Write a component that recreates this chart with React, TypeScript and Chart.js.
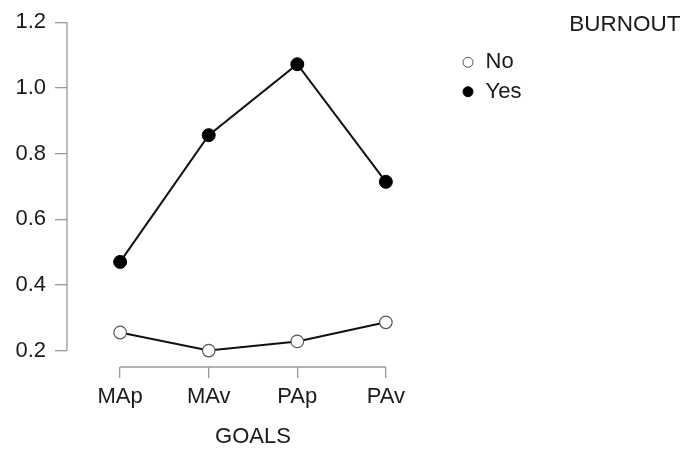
import React, { useEffect, useRef } from 'react';
import { Chart, registerables } from 'chart.js';

Chart.register(...registerables);

// ---- data ----
const categories = ['MAp', 'MAv', 'PAp', 'PAv'];
const burnoutNo = [0.255, 0.2, 0.228, 0.286];
const burnoutYes = [0.47, 0.856, 1.072, 0.714];
const yTicks = [0.2, 0.4, 0.6, 0.8, 1.0, 1.2];
const seriesNames = ['No', 'Yes'];
const legendTitle = 'BURNOUT';
const xTitle = 'GOALS';

const FONT = '"Liberation Sans", Arial, Helvetica, sans-serif';
const TEXT = '#1a1a1a';
const AXIS = '#9a9a9a';

const axesAndLegend = {
  id: 'axesAndLegend',
  afterDraw(chart: any) {
    const { ctx, chartArea, scales } = chart;
    const x = scales.x;
    const y = scales.y;
    ctx.save();
    // offset axis lines (span only the tick range)
    ctx.strokeStyle = AXIS;
    ctx.lineWidth = 1.3;
    ctx.beginPath();
    ctx.moveTo(chartArea.left, y.getPixelForValue(yTicks[yTicks.length - 1]));
    ctx.lineTo(chartArea.left, y.getPixelForValue(yTicks[0]));
    ctx.moveTo(x.getPixelForValue(0), chartArea.bottom);
    ctx.lineTo(x.getPixelForValue(categories.length - 1), chartArea.bottom);
    ctx.stroke();

    // legend
    const lx = 468;
    const ly0 = 62.3;
    const dy = 29.4;
    chart.data.datasets.forEach((ds: any, i: number) => {
      const cy = ly0 + i * dy;
      ctx.beginPath();
      ctx.arc(lx, cy, 5, 0, Math.PI * 2);
      ctx.fillStyle = ds.pointBackgroundColor;
      ctx.fill();
      ctx.lineWidth = 1;
      ctx.strokeStyle = ds.pointBorderColor;
      ctx.stroke();
      ctx.fillStyle = TEXT;
      ctx.font = `22px ${FONT}`;
      ctx.textAlign = 'left';
      ctx.textBaseline = 'middle';
      ctx.fillText(ds.label, 485.5, cy);
    });
    ctx.fillStyle = TEXT;
    ctx.font = `22.5px ${FONT}`;
    ctx.textAlign = 'right';
    ctx.textBaseline = 'middle';
    ctx.fillText(legendTitle, 680.5, 25);
    ctx.restore();
  },
};

export default function App() {
  const ref = useRef<HTMLCanvasElement | null>(null);

  useEffect(() => {
    if (!ref.current) return;
    const font = { family: FONT, size: 22 };
    const chart = new Chart(ref.current, {
      type: 'line',
      data: {
        datasets: [
          {
            label: seriesNames[0],
            data: burnoutNo.map((v, i) => ({ x: i, y: v })),
            borderColor: '#111',
            borderWidth: 2,
            pointRadius: 6.3,
            pointBackgroundColor: '#ffffff',
            pointBorderColor: '#555555',
            pointBorderWidth: 1.2,
            fill: false,
            tension: 0,
          },
          {
            label: seriesNames[1],
            data: burnoutYes.map((v, i) => ({ x: i, y: v })),
            borderColor: '#111',
            borderWidth: 2,
            pointRadius: 6.5,
            pointBackgroundColor: '#000000',
            pointBorderColor: '#000000',
            pointBorderWidth: 1,
            fill: false,
            tension: 0,
          },
        ],
      },
      options: {
        responsive: false,
        animation: false,
        devicePixelRatio: 1,
        layout: { padding: { top: 22, right: 243, bottom: 0, left: 0 } },
        plugins: {
          legend: { display: false },
          tooltip: { enabled: false },
        },
        scales: {
          x: {
            type: 'linear',
            min: -0.6,
            max: 3.6,
            afterBuildTicks: (s: any) => {
              s.ticks = categories.map((_, i) => ({ value: i }));
            },
            afterFit: (s: any) => {
              s.height = 83;
            },
            ticks: {
              callback: (v: any) => categories[Number(v)] ?? '',
              font,
              color: TEXT,
              padding: 6,
              maxRotation: 0,
              autoSkip: false,
            },
            grid: {
              drawOnChartArea: false,
              drawTicks: true,
              tickLength: 11,
              color: AXIS,
              lineWidth: 1.3,
            },
            border: { display: false },
            title: {
              display: true,
              text: xTitle,
              font,
              color: TEXT,
              padding: { top: 0, bottom: 0 },
            },
          },
          y: {
            type: 'linear',
            min: 0.15,
            max: 1.2,
            afterBuildTicks: (s: any) => {
              s.ticks = yTicks.map((v) => ({ value: v }));
            },
            afterFit: (s: any) => {
              s.width = 67;
            },
            ticks: {
              callback: (v: any) => Number(v).toFixed(1),
              font,
              color: TEXT,
              padding: 9,
            },
            grid: {
              drawOnChartArea: false,
              drawTicks: true,
              tickLength: 12,
              color: AXIS,
              lineWidth: 1.3,
            },
            border: { display: false },
          },
        },
      } as any,
      plugins: [axesAndLegend],
    });
    return () => chart.destroy();
  }, []);

  return (
    <div style={{ position: 'absolute', left: 0, top: 0, width: 682, height: 450, background: '#fff' }}>
      <canvas ref={ref} width={682} height={450} style={{ display: 'block' }} />
    </div>
  );
}
